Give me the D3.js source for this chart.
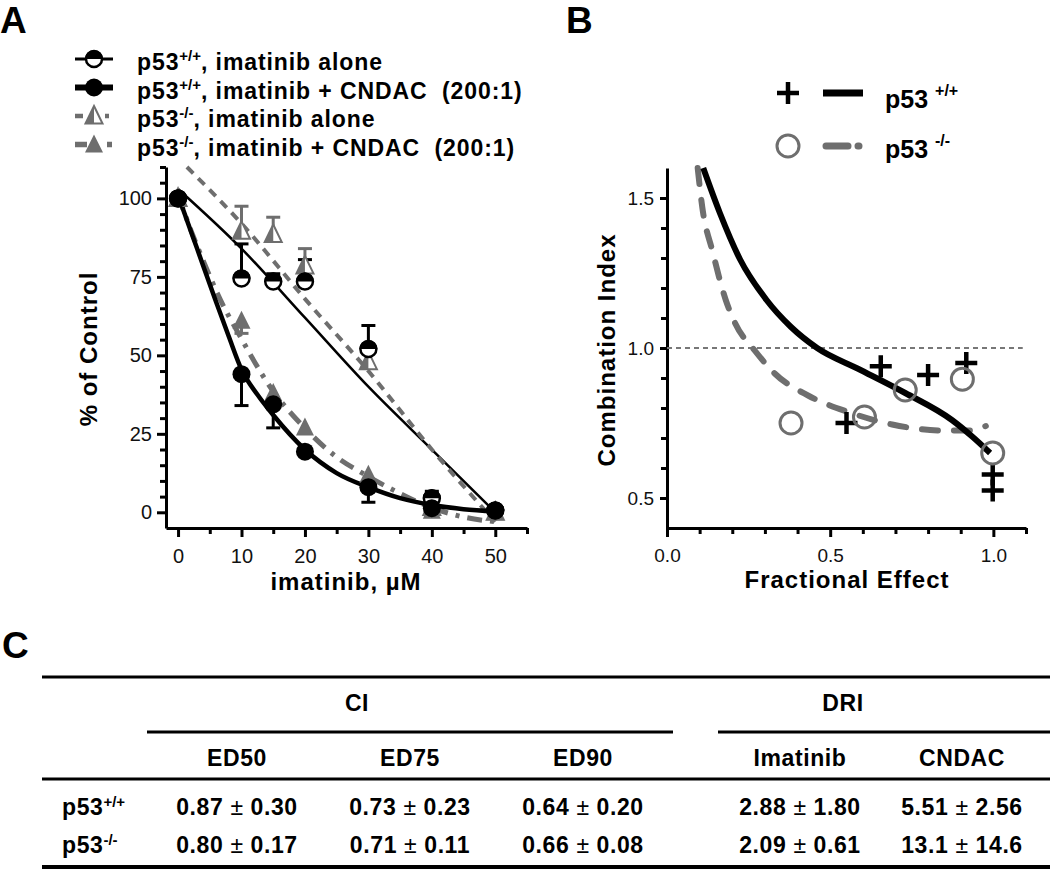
<!DOCTYPE html>
<html>
<head>
<meta charset="utf-8">
<script src="https://cdn.jsdelivr.net/npm/d3@7"></script>
<style>
  body { margin: 0; background: #fff; }
  svg text { font-family: Arial, "Liberation Sans", sans-serif; white-space: pre; }
</style>
</head>
<body>
<svg id="fig" width="1050" height="878"></svg>
<script>
// ---- panel A: viability, % of control ----
const doses = [0, 10, 15, 20, 30, 40, 50];
const wtAlone    = [100, 74.5, 73.5, 73.5, 52, 4.5, 0.6];
const wtAloneErr = [0, 11, 2.5, 7, 7.5, 2.2, 0];
const wtCombo    = [100, 44, 34.4, 19.3, 8, 1.3, 0.6];
const wtComboErr = [0, -10, -7.5, 0, -4.8, 0, 0];
const koAlone    = [100, 89.5, 88.5, 78.5, 48, 1.5, 0];
const koAloneErr = [0, 8, 5.5, 5.5, 0, 0, 0];
const koCombo    = [100, 61, 38, 27, 12, 0.5, 0];
const koComboErr = [0, -4, 0, 0, 0, 0, 0];

// fitted curves, [dose, %]
const wtAloneFit = [[0, 103], [10, 84], [20, 62], [30, 40], [40, 20], [50, 0]];
const wtComboFit = [[0, 101], [3, 84], [6, 67], [8, 56], [10, 45.5], [12.5, 37.5], [15, 31],
                    [20, 20], [25, 12.5], [30, 8], [35, 4.5], [40, 2.3], [45, 1], [50, 0.3]];
const koAloneFit = [[1.4, 110], [10, 92], [20, 68], [30, 45], [40, 20], [50, -3]];
const koComboFit = [[0, 101], [2, 90], [4, 80], [6.6, 68], [9.8, 56], [14.5, 40], [19.8, 27.2],
                    [25, 17.6], [29.2, 12.3], [35, 6], [39.7, 1.7], [45, -1.5], [50, -3]];

const legendA = [
  {key: "wtAlone", sup: "+/+", text: ", imatinib alone"},
  {key: "wtCombo", sup: "+/+", text: ", imatinib + CNDAC  (200:1)"},
  {key: "koAlone", sup: "-/-", text: ", imatinib alone"},
  {key: "koCombo", sup: "-/-", text: ", imatinib + CNDAC  (200:1)"}
];

// ---- panel B: combination index vs fractional effect ----
const wtCI = [[0.55, 0.75], [0.655, 0.939], [0.80, 0.91], [0.917, 0.95], [0.998, 0.578], [0.998, 0.525]];
const koCI = [[0.38, 0.75], [0.605, 0.77], [0.73, 0.86], [0.905, 0.896], [0.998, 0.65]];
const wtCIFit = [[0.111, 1.6], [0.162, 1.45], [0.224, 1.295], [0.305, 1.16], [0.38, 1.07], [0.46, 1.0],
                 [0.587, 0.93], [0.73, 0.85], [0.873, 0.76], [0.935, 0.705], [0.99, 0.65]];
const koCIFit = [[0.094, 1.6], [0.108, 1.47], [0.14, 1.32], [0.18, 1.16], [0.21, 1.08], [0.27, 0.99],
                 [0.33, 0.915], [0.435, 0.84], [0.56, 0.785], [0.69, 0.745], [0.845, 0.725],
                 [0.925, 0.725], [0.977, 0.74]];

// ---- panel C: table ----
const groupNames = ["CI", "DRI"];
const columnNames = ["ED50", "ED75", "ED90", "Imatinib", "CNDAC"];
const rowNames = ["+/+", "-/-"];
const tableMeans = [["0.87", "0.73", "0.64", "2.88", "5.51"],
                    ["0.80", "0.71", "0.66", "2.09", "13.1"]];
const tableSDs   = [["0.30", "0.23", "0.20", "1.80", "2.56"],
                    ["0.17", "0.11", "0.08", "0.61", "14.6"]];

const svg = d3.select("#fig");
const gray = "#6e6e6e";

// panel letters
[["A", 0, 33], ["B", 566, 33], ["C", 2, 658]].forEach(function(d) {
  svg.append("text").attr("x", d[1]).attr("y", d[2])
    .attr("font-size", 37).attr("font-weight", "bold").text(d[0]);
});

// ================= panel A =================
const xA = d3.scaleLinear().domain([-1.9, 55]).range([166, 527]);
const yA = d3.scaleLinear().domain([-5, 110]).range([528, 167]);

function styleAxis(g, w, size) {
  g.attr("font-family", null).attr("font-size", size);
  g.select(".domain").attr("stroke-width", w);
  g.selectAll(".tick line").attr("stroke-width", w);
  g.selectAll(".tick text").attr("fill", "#111");
}

const axA = svg.append("g").attr("transform", "translate(0,528)")
  .call(d3.axisBottom(xA).tickValues([0, 10, 20, 30, 40, 50]).tickSize(9).tickSizeOuter(0).tickPadding(12));
styleAxis(axA, 3, 20);
svg.append("g").attr("transform", "translate(0,528)")
  .call(d3.axisBottom(xA).tickValues([5, 15, 25, 35, 45, 55]).tickSize(6).tickFormat(""))
  .call(g => g.select(".domain").remove())
  .selectAll("line").attr("stroke-width", 3);

const ayA = svg.append("g").attr("transform", "translate(166,0)")
  .call(d3.axisLeft(yA).tickValues([0, 25, 50, 75, 100]).tickSize(9).tickSizeOuter(0).tickPadding(5));
styleAxis(ayA, 3, 20);
svg.append("g").attr("transform", "translate(166,0)")
  .call(d3.axisLeft(yA).tickValues(d3.range(5, 111, 5).filter(v => v % 25 !== 0)).tickSize(6).tickFormat(""))
  .call(g => g.select(".domain").remove())
  .selectAll("line").attr("stroke-width", 3);

svg.append("text").attr("x", 346).attr("y", 590).attr("text-anchor", "middle")
  .attr("font-size", 24).attr("font-weight", "bold").attr("letter-spacing", 1).text("imatinib, µM");
svg.append("text").attr("transform", "translate(97,349) rotate(-90)").attr("text-anchor", "middle")
  .attr("font-size", 24).attr("font-weight", "bold").attr("letter-spacing", 1).text("% of Control");

const styles = {
  wtAlone: {color: "#000", width: 2.5, dash: null},
  wtCombo: {color: "#000", width: 4.5, dash: null},
  koAlone: {color: gray, width: 4, dash: "9,7"},
  koCombo: {color: gray, width: 5, dash: "15,8,4,8"}
};

const lineA = d3.line().x(d => xA(d[0])).y(d => yA(d[1])).curve(d3.curveMonotoneX);
const gA = svg.append("g");
[["wtAlone", wtAloneFit], ["koAlone", koAloneFit], ["koCombo", koComboFit], ["wtCombo", wtComboFit]]
  .forEach(function(c) {
    const s = styles[c[0]];
    gA.append("path").datum(c[1]).attr("d", lineA)
      .attr("fill", "none").attr("stroke", s.color).attr("stroke-width", s.width)
      .attr("stroke-dasharray", s.dash);
  });

function marker(g, kind, cx, cy) {
  const r = 9, s = 10;
  if (kind === "wtAlone") {
    g.append("circle").attr("cx", cx).attr("cy", cy).attr("r", r - 1)
      .attr("fill", "#fff").attr("stroke", "#000").attr("stroke-width", 2.5);
    g.append("path").attr("d", `M${cx - r},${cy} A${r},${r} 0 0 1 ${cx + r},${cy} Z`).attr("fill", "#000");
  } else if (kind === "wtCombo") {
    g.append("circle").attr("cx", cx).attr("cy", cy).attr("r", r).attr("fill", "#000");
  } else if (kind === "koAlone") {
    g.append("path").attr("d", `M${cx},${cy - s} L${cx + s * 0.85},${cy + s * 0.75} L${cx - s * 0.85},${cy + s * 0.75} Z`)
      .attr("fill", "#fff").attr("stroke", gray).attr("stroke-width", 2);
    g.append("path").attr("d", `M${cx},${cy - s} L${cx},${cy + s * 0.75} L${cx - s * 0.85},${cy + s * 0.75} Z`)
      .attr("fill", gray);
  } else {
    g.append("path").attr("d", `M${cx},${cy - s} L${cx + s * 0.9},${cy + s * 0.8} L${cx - s * 0.9},${cy + s * 0.8} Z`)
      .attr("fill", gray);
  }
}

const seriesA = [
  ["koAlone", koAlone, koAloneErr],
  ["koCombo", koCombo, koComboErr],
  ["wtAlone", wtAlone, wtAloneErr],
  ["wtCombo", wtCombo, wtComboErr]
];
seriesA.forEach(function(s) {
  const col = styles[s[0]].color;
  doses.forEach(function(d, i) {
    if (!s[2][i]) return;
    const x = xA(d), y0 = yA(s[1][i]), y1 = yA(s[1][i] + s[2][i]);
    gA.append("line").attr("x1", x).attr("x2", x).attr("y1", y0).attr("y2", y1)
      .attr("stroke", col).attr("stroke-width", 3);
    gA.append("line").attr("x1", x - 7).attr("x2", x + 7).attr("y1", y1).attr("y2", y1)
      .attr("stroke", col).attr("stroke-width", 3);
  });
});
seriesA.forEach(function(s) {
  doses.forEach(function(d, i) { marker(gA, s[0], xA(d), yA(s[1][i])); });
});

// legend A
legendA.forEach(function(d, i) {
  const base = 70 + i * 28.5, sy = base - 11, s = styles[d.key];
  svg.append("line").attr("x1", 75).attr("x2", 113).attr("y1", sy).attr("y2", sy)
    .attr("stroke", s.color).attr("stroke-width", s.width + (i === 1 ? 1.5 : 0.5))
    .attr("stroke-dasharray", d.key === "koAlone" ? "8,22,4" : d.key === "koCombo" ? "12,20,5" : null);
  marker(svg, d.key, 94, sy);
  const t = svg.append("text").attr("x", 137).attr("y", base)
    .attr("font-size", 23).attr("font-weight", "bold").attr("letter-spacing", 0.9);
  t.append("tspan").text("p53");
  t.append("tspan").attr("dy", -9).attr("font-size", 15).attr("letter-spacing", 0).text(d.sup);
  t.append("tspan").attr("dy", 9).text(d.text);
});

// ================= panel B =================
const xB = d3.scaleLinear().domain([0, 1.1]).range([667, 1026]);
const yB = d3.scaleLinear().domain([0.4, 1.6]).range([528, 168]);
const fmt = d3.format(".1f");

const axB = svg.append("g").attr("transform", "translate(0,528)")
  .call(d3.axisBottom(xB).tickValues([0, 0.5, 1]).tickFormat(fmt).tickSize(9).tickSizeOuter(0).tickPadding(12));
styleAxis(axB, 3, 19);
svg.append("g").attr("transform", "translate(0,528)")
  .call(d3.axisBottom(xB).tickValues([0.1, 0.2, 0.3, 0.4, 0.6, 0.7, 0.8, 0.9, 1.1]).tickSize(6).tickFormat(""))
  .call(g => g.select(".domain").remove())
  .selectAll("line").attr("stroke-width", 3);

const ayB = svg.append("g").attr("transform", "translate(667,0)")
  .call(d3.axisLeft(yB).tickValues([0.5, 1.0, 1.5]).tickFormat(fmt).tickSize(7).tickSizeOuter(0).tickPadding(6));
styleAxis(ayB, 3, 19);
svg.append("g").attr("transform", "translate(667,0)")
  .call(d3.axisLeft(yB).tickValues([0.6, 0.7, 0.8, 0.9, 1.1, 1.2, 1.3, 1.4]).tickSize(6).tickFormat(""))
  .call(g => g.select(".domain").remove())
  .selectAll("line").attr("stroke-width", 3);

svg.append("text").attr("x", 847).attr("y", 588).attr("text-anchor", "middle")
  .attr("font-size", 24).attr("font-weight", "bold").attr("letter-spacing", 1).text("Fractional Effect");
svg.append("text").attr("transform", "translate(615,350) rotate(-90)").attr("text-anchor", "middle")
  .attr("font-size", 24).attr("font-weight", "bold").attr("letter-spacing", 1).text("Combination Index");

const gB = svg.append("g");
gB.append("line").attr("x1", xB(0)).attr("x2", xB(1.09)).attr("y1", yB(1)).attr("y2", yB(1))
  .attr("stroke", "#777").attr("stroke-width", 2).attr("stroke-dasharray", "5,4");

const lineB = d3.line().x(d => xB(d[0])).y(d => yB(d[1])).curve(d3.curveMonotoneX);
gB.append("path").datum(koCIFit).attr("d", lineB).attr("fill", "none")
  .attr("stroke", gray).attr("stroke-width", 6).attr("stroke-linecap", "round")
  .attr("stroke-dasharray", "16,16");
gB.append("path").datum(wtCIFit).attr("d", lineB).attr("fill", "none")
  .attr("stroke", "#000").attr("stroke-width", 6);

function plus(g, cx, cy) {
  g.append("path").attr("d", `M${cx - 11},${cy} H${cx + 11} M${cx},${cy - 11} V${cy + 11}`)
    .attr("stroke", "#000").attr("stroke-width", 4.5).attr("fill", "none");
}
function ring(g, cx, cy) {
  g.append("circle").attr("cx", cx).attr("cy", cy).attr("r", 11)
    .attr("fill", "none").attr("stroke", gray).attr("stroke-width", 3);
}
wtCI.forEach(d => plus(gB, xB(d[0]), yB(d[1])));
koCI.forEach(d => ring(gB, xB(d[0]), yB(d[1])));

// legend B
plus(svg, 788, 93);
svg.append("line").attr("x1", 823).attr("x2", 863).attr("y1", 93).attr("y2", 93)
  .attr("stroke", "#000").attr("stroke-width", 7);
ring(svg, 788, 146);
svg.append("line").attr("x1", 826).attr("x2", 860).attr("y1", 146).attr("y2", 146)
  .attr("stroke", gray).attr("stroke-width", 7).attr("stroke-linecap", "round")
  .attr("stroke-dasharray", "22,10,1,20");
[["+/+", 108], ["-/-", 158]].forEach(function(d) {
  const t = svg.append("text").attr("x", 885).attr("y", d[1])
    .attr("font-size", 25).attr("font-weight", "bold");
  t.append("tspan").text("p53 ");
  t.append("tspan").attr("dy", -12).attr("font-size", 16).text(d[0]);
});

// ================= panel C =================
const colX = [237, 410, 583, 800, 962];
const gC = svg.append("g").attr("font-size", 23).attr("font-weight", "bold").attr("letter-spacing", 0.6);

function rule(x1, x2, y, w) {
  gC.append("line").attr("x1", x1).attr("x2", x2).attr("y1", y).attr("y2", y)
    .attr("stroke", "#000").attr("stroke-width", w);
}
rule(42, 1050, 677, 3);
rule(147, 673, 732, 3);
rule(718, 1050, 732, 3);
rule(42, 1050, 779, 3);
rule(42, 1050, 867, 4);

gC.selectAll("text.group").data(groupNames).enter().append("text").attr("class", "group")
  .attr("x", (d, i) => i === 0 ? 357 : 843).attr("y", 711).attr("text-anchor", "middle").text(d => d);
gC.selectAll("text.col").data(columnNames).enter().append("text").attr("class", "col")
  .attr("x", (d, i) => colX[i]).attr("y", 766).attr("text-anchor", "middle").text(d => d);

rowNames.forEach(function(r, ri) {
  const y = 815 + ri * 38;
  const t = gC.append("text").attr("x", 62).attr("y", y);
  t.append("tspan").text("p53");
  t.append("tspan").attr("dy", -8).attr("font-size", 15).attr("letter-spacing", 0).text(r);
  tableMeans[ri].forEach(function(m, ci) {
    const v = gC.append("text").attr("x", colX[ci]).attr("y", y).attr("text-anchor", "middle");
    v.append("tspan").text(m + " ");
    v.append("tspan").attr("font-weight", "normal").text("±");
    v.append("tspan").text(" " + tableSDs[ri][ci]);
  });
});
</script>
</body>
</html>
